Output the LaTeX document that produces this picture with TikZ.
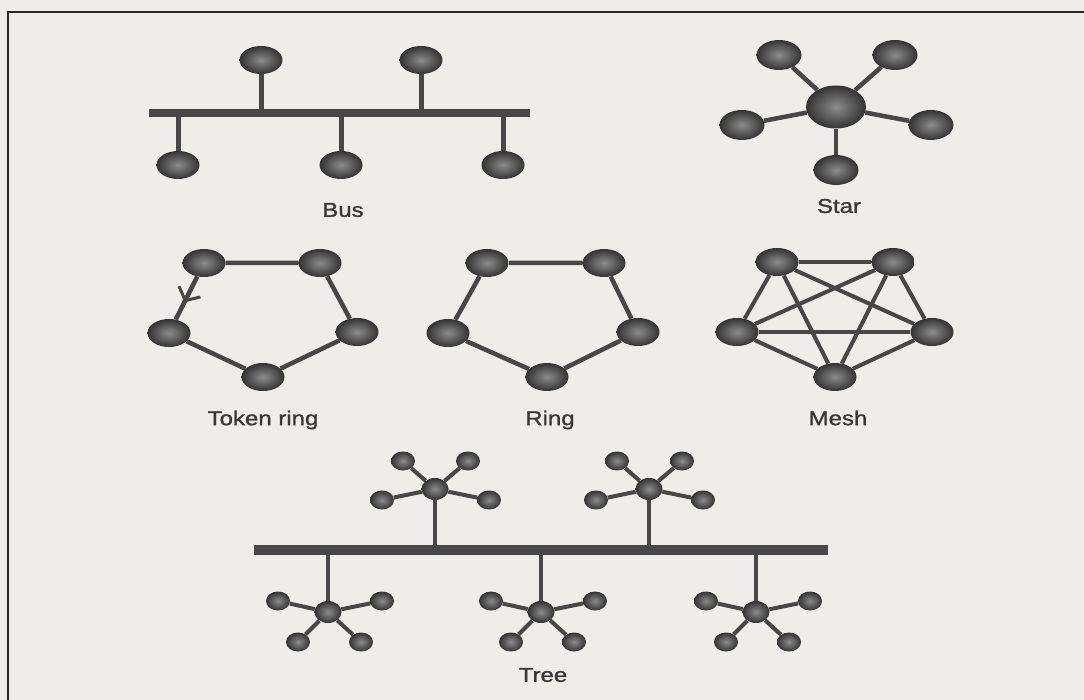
\documentclass[tikz,border=0pt]{standalone}
\usepackage{fontspec}
\newfontfamily\labelfont[FakeStretch=1.2,FakeBold=1.2]{Liberation Sans}
\usetikzlibrary{shapes.geometric,decorations.markings,arrows.meta}
\definecolor{paper}{RGB}{238,237,233}

\begin{document}
\begin{tikzpicture}[x=1pt,y=-1pt]
          \tikzset{host/.style={ellipse, inner sep=0pt, minimum width=43pt, minimum height=28pt,
                   shading=radial, inner color=black!45, outer color=black!80}}
          \tikzset{hub/.style={host, minimum width=60pt, minimum height=43pt}}
          \tikzset{twig/.style={host, minimum width=27pt, minimum height=22pt}}
          \tikzset{leaf/.style={host, minimum width=24pt, minimum height=19pt}}
          \tikzset{link/.style={draw=black!72, line width=4.5pt}}
          \tikzset{spoke/.style={draw=black!72, line width=4pt}}
          \tikzset{cable/.style={draw=black!72, line width=8pt}}
          \tikzset{caption/.style={font=\labelfont\fontsize{20}{22}\selectfont, text=black!78}}
          \tikzset{token/.style={postaction={decorate}, decoration={markings,
                   mark=at position 0.6 with {\arrow{Straight Barb[length=10pt, width=24pt, line width=3pt]}}}}}

          \useasboundingbox (0,0) rectangle (1084,700);
          \fill[paper] (0,0) rectangle (1084,700);
          \draw[black!85, line width=2pt] (8,700) -- (8,12) -- (1084,12);

          \coordinate (busW) at (149,113);
          \coordinate (busE) at (530,113);
          \draw[cable] (busW) -- (busE);
          \foreach \p [count=\i] in {(261,60),(421,60),(178,165),(341,165),(503,165)}{
            \node[host] (bus\i) at \p {};
            \draw[link, line width=5pt] (bus\i) -- (bus\i |- busW);
          }
          \node[caption] (busName) at (343,210) {Bus};

          \node[hub] (star) at (836,107) {};
          \foreach \p [count=\i] in {(779,55),(895,55),(742,125),(931,125),(836,170)}{
            \node[host, minimum width=45pt, minimum height=30pt] (star\i) at \p {};
            \draw[link] (star) -- (star\i);
          }
          \node[caption] (starName) at (839,206) {Star};

          \foreach \p [count=\i] in {(204,263),(320,263),(357,332),(263,377),(169,333)}
            \node[host] (tok\i) at \p {};
          \draw[link] (tok1) -- (tok2) -- (tok3) -- (tok4) -- (tok5);
          \draw[link, token] (tok1) -- (tok5);
          \node[caption] (tokName) at (263,420) {Token ring};

          \foreach \p [count=\i] in {(487,263),(604,263),(638,332),(547,377),(448,333)}
            \node[host] (ring\i) at \p {};
          \draw[link] (ring1) -- (ring2) -- (ring3) -- (ring4) -- (ring5) -- (ring1);
          \node[caption] (ringName) at (550,420) {Ring};

          \foreach \p [count=\i] in {(777,262),(893,262),(932,332),(835,377),(737,332)}
            \node[host] (mesh\i) at \p {};
          \foreach \a/\b in {1/2,1/3,1/4,1/5,2/3,2/4,2/5,3/4,3/5,4/5}
            \draw[link, line width=4pt] (mesh\a) -- (mesh\b);
          \node[caption] (meshName) at (838,418) {Mesh};

          \coordinate (treeW) at (254,550);
          \coordinate (treeE) at (828,550);
          \draw[cable, line width=10pt] (treeW) -- (treeE);
          \foreach \t/\x/\y in {1/435/489, 2/649/489}{
            \node[twig] (tree\t) at (\x,\y) {};
            \foreach \dx/\dy [count=\k] in {-32/-28, 33/-28, -53/11, 54/11}{
              \node[leaf] (tree\t-\k) at (\x+\dx,\y+\dy) {};
              \draw[spoke] (tree\t) -- (tree\t-\k);
            }
            \draw[link] (tree\t) -- (tree\t |- treeW);
          }
          \foreach \t/\x/\y in {3/328/612, 4/541/612, 5/756/612}{
            \node[twig] (tree\t) at (\x,\y) {};
            \foreach \dx/\dy [count=\k] in {-50/-11, 54/-11, -30/30, 33/30}{
              \node[leaf] (tree\t-\k) at (\x+\dx,\y+\dy) {};
              \draw[spoke] (tree\t) -- (tree\t-\k);
            }
            \draw[link] (tree\t) -- (tree\t |- treeW);
          }
          \node[caption] (treeName) at (543,675) {Tree};
        \end{tikzpicture}
\end{document}
